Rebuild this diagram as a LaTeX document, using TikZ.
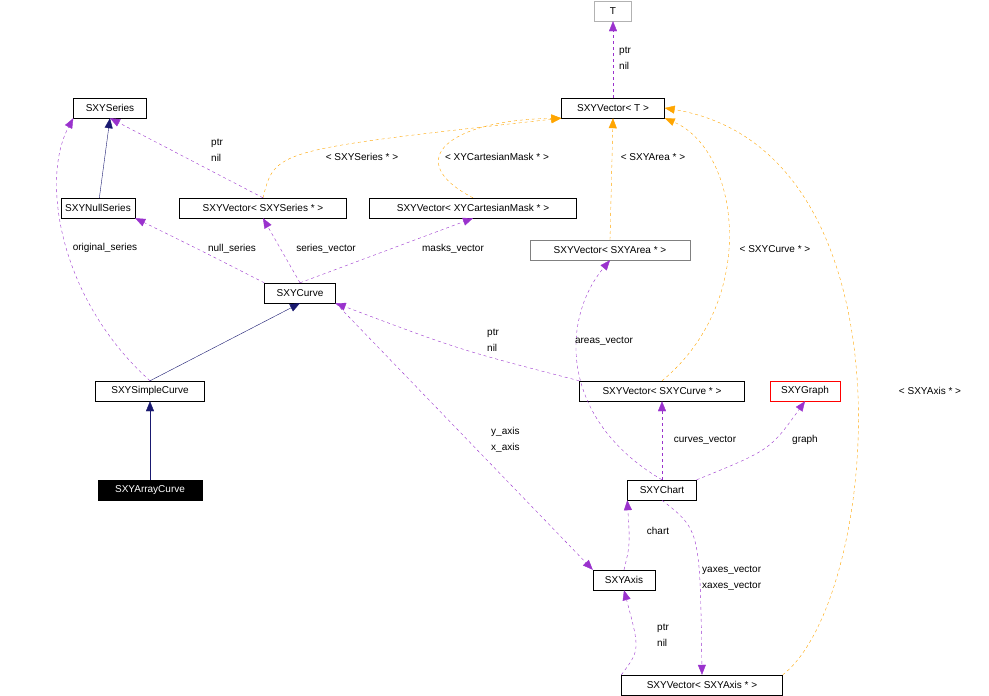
\documentclass[tikz,border=0pt]{standalone}
\usepackage{fontspec}
\setmainfont{Liberation Sans}
\usetikzlibrary{arrows.meta}
\definecolor{usecol}{HTML}{9A32CD}
\definecolor{tmplcol}{HTML}{FFA500}
\definecolor{inhcol}{HTML}{191970}

\begin{document}
\begin{tikzpicture}[x=1pt,y=-1pt,font=\fontsize{10}{16}\selectfont]
    \tikzstyle{cls}=[draw=black,fill=white,inner sep=0pt,minimum height=20pt,anchor=center]
    \tikzstyle{use}=[draw=usecol,dashed,-{Triangle[length=10pt,width=8pt]},usecol]
    \tikzstyle{tmpl}=[draw=tmplcol,dashed,-{Triangle[length=10pt,width=8pt]},tmplcol]
    \tikzstyle{inh}=[draw=inhcol,-{Triangle[length=10pt,width=8pt]},inhcol]
    \tikzstyle{lbl}=[text=black,align=left,inner sep=1pt]

    \useasboundingbox (0,0) rectangle (989,696);

    % Draw the classes
    \node[cls,draw=gray!60,minimum width=37pt] (T) at (613,11) {T};
    \node[cls,minimum width=103pt] (VT) at (613,108) {SXYVector< T >};
    \node[cls,minimum width=73pt] (Series) at (110,108) {SXYSeries};
    \node[cls,minimum width=74pt] (Null) at (98,208) {SXYNullSeries};
    \node[cls,minimum width=167pt] (VSeries) at (263,208) {SXYVector< SXYSeries * >};
    \node[cls,minimum width=207pt] (VMask) at (473,208) {SXYVector< XYCartesianMask * >};
    \node[cls,draw=gray,minimum width=160pt] (VArea) at (610,250) {SXYVector< SXYArea * >};
    \node[cls,minimum width=71pt] (Curve) at (300,293) {SXYCurve};
    \node[cls,minimum width=109pt] (Simple) at (150,391) {SXYSimpleCurve};
    \node[cls,minimum width=165pt] (VCurve) at (662,391) {SXYVector< SXYCurve * >};
    \node[cls,draw=red,minimum width=70pt] (Graph) at (805,391) {SXYGraph};
    \node[cls,fill=black,text=white,minimum width=104pt] (Array) at (150,490) {SXYArrayCurve};
    \node[cls,minimum width=69pt] (Chart) at (662,490) {SXYChart};
    \node[cls,minimum width=62pt] (Axis) at (624,580) {SXYAxis};
    \node[cls,minimum width=161pt] (VAxis) at (702,685) {SXYVector< SXYAxis * >};

    % Inheritance
    \draw[inh] (Null) -- (Series.south);
    \draw[inh] (Simple.north) -- (Curve.south);
    \draw[inh] (Array) -- (Simple);

    % Template instances
    \draw[tmpl] (VSeries.north) .. controls (275,150) .. (VT.south west);
    \draw[tmpl] (VMask.north) .. controls (400,160) and (450,120) .. (VT.south west);
    \draw[tmpl] (VArea.north) -- (VT.south);
    \draw[tmpl] (VCurve.north) .. controls (760,300) and (740,150) .. (VT.south east);
    \draw[tmpl] (VAxis.north east) .. controls (880,600) and (920,150) .. (VT.east);
    \node[lbl] at (362,157) {< SXYSeries * >};
    \node[lbl] at (497,157) {< XYCartesianMask * >};
    \node[lbl] at (653,157) {< SXYArea * >};
    \node[lbl] at (775,249) {< SXYCurve * >};
    \node[lbl] at (930,391) {< SXYAxis * >};

    % Usage relations
    \draw[use] (VT) -- (T);
    \node[lbl,anchor=west] at (618,58) {ptr\\nil};
    \draw[use] (Simple.north) .. controls (60,300) and (40,180) .. (Series.south west);
    \node[lbl] at (105,248) {original\_series};
    \draw[use] (VSeries.north) -- (Series.south);
    \node[lbl,anchor=west] at (210,150) {ptr\\nil};
    \draw[use] (Curve.north west) .. controls (200,250) .. (Null.south east);
    \node[lbl] at (232,249) {null\_series};
    \draw[use] (Curve.north) -- (VSeries.south);
    \node[lbl] at (326,249) {series\_vector};
    \draw[use] (Curve.north) -- (VMask.south);
    \node[lbl] at (453,249) {masks\_vector};
    \draw[use] (VCurve.north west) .. controls (460,350) .. (Curve.south east);
    \node[lbl,anchor=west] at (486,340) {ptr\\nil};
    \draw[use] (Curve.south east) -- (Axis.north west);
    \node[lbl,anchor=west] at (490,440) {y\_axis\\x\_axis};
    \draw[use] (Chart.north) .. controls (560,420) and (560,320) .. (VArea.south);
    \node[lbl] at (604,341) {areas\_vector};
    \draw[use] (Chart) -- (VCurve);
    \node[lbl] at (705,440) {curves\_vector};
    \draw[use] (Chart.north east) .. controls (770,450) .. (Graph.south);
    \node[lbl] at (805,440) {graph};
    \draw[use] (Axis.north) .. controls (630,545) .. (Chart.south west);
    \node[lbl] at (658,531) {chart};
    \draw[use] (Chart.south) .. controls (700,530) .. (VAxis.north);
    \node[lbl,anchor=west] at (701,578) {yaxes\_vector\\xaxes\_vector};
    \draw[use] (VAxis.north west) .. controls (640,650) .. (Axis.south);
    \node[lbl,anchor=west] at (656,635) {ptr\\nil};
\end{tikzpicture}
\end{document}
